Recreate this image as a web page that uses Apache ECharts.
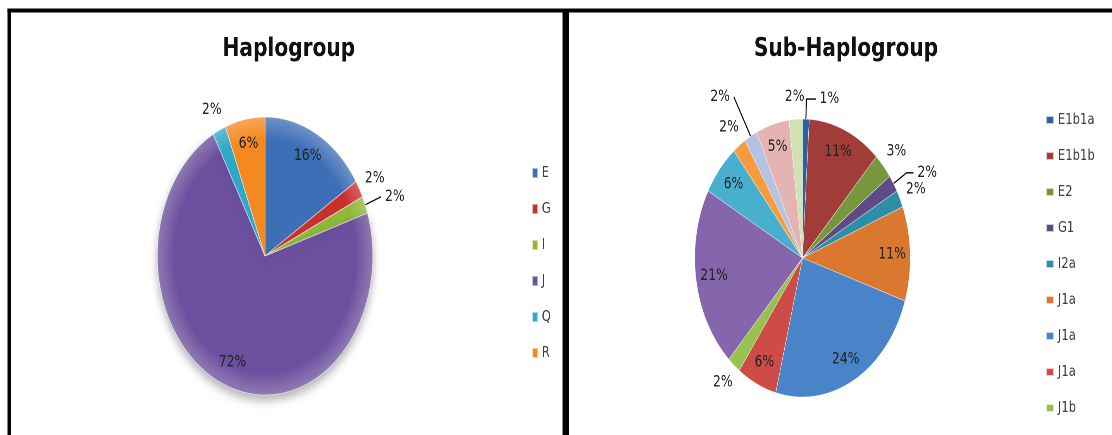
<!DOCTYPE html>
<html>
<head>
<meta charset="utf-8">
<script src="https://cdn.jsdelivr.net/npm/echarts@6/dist/echarts.min.js"></script>
<style>
  html, body { margin: 0; padding: 0; background: #fff; overflow: hidden; }
  #wrap { width: 1112px; height: 435px; overflow: hidden; position: relative; }
  /* the drawing is laid out wide and then narrowed, which gives the oval pies and the condensed lettering */
  #chart { width: 1435px; height: 435px; transform: scaleX(0.775); transform-origin: 0 0; }
</style>
</head>
<body>
<div id="wrap"><div id="chart"></div></div>
<script>
// Haplogroup shares (%)
const haploNames  = ['E', 'G', 'I', 'J', 'Q', 'R'];
const haploValues = [16, 2, 2, 72, 2, 6];

// Sub-haplogroup shares (%)
const subNames  = ['E1b1a', 'E1b1b', 'E2', 'G1', 'I2a', 'J1a', 'J1a', 'J1a', 'J1b', 'J1c', 'J1d', 'J2', 'Q1', 'R1a', 'R1b'];
const subValues = [1, 11, 3, 2, 2, 11, 24, 6, 2, 21, 6, 2, 2, 5, 2];
const subLegendCount = 9;

// ---- styling ----
const FONT = 'DejaVu Sans';
const R = 139;
const leftCenter = [342, 256];
const rightCenter = [1035.5, 258];

const haploColors = ['#3d6fb6', '#c9302c', '#8db83a', '#6c4f9e', '#2fa7c9', '#f5891f'];
const subColors = ['#2e5f9e', '#a13c39', '#77973b', '#5f4a86', '#2d8ea5', '#d9782e', '#4a84c8', '#cd4c47',
                   '#98c24f', '#8566ad', '#48b0cc', '#f89a3e', '#b4c3e3', '#e4b3b2', '#cfe2b4'];

// where each slice's percentage sits: 'in' = inside the slice, 'out' = just outside, 'lead' = with a leader line
const haploLabelPlace = ['in', 'out', 'lead', 'in', 'out', 'in'];
const subLabelPlace = ['lead', 'in', 'out', 'lead', 'out', 'in', 'in', 'in', 'out', 'in', 'in', 'out', 'lead', 'in', 'out'];
// leader line lengths [radial, horizontal]
const haploLeader = { 2: [22, 0] };
const subLeader = { 0: [20, 12], 3: [20, 9], 12: [45, 0] };

const labelText = { formatter: '{c}%', fontSize: 16, color: '#222', fontFamily: FONT };

function tint(hex, t) {
  const n = parseInt(hex.slice(1), 16);
  const f = c => Math.round(c + (255 - c) * t);
  return `rgb(${f((n >> 16) & 255)},${f((n >> 8) & 255)},${f(n & 255)})`;
}

function bevel(base, center) {
  return {
    type: 'radial', x: center[0], y: center[1], r: R, global: true,
    colorStops: [
      { offset: 0, color: base },
      { offset: 0.84, color: base },
      { offset: 1, color: tint(base, 0.25) }
    ]
  };
}

function mainPie(keys, values, colors, places, leaders, center, beveled) {
  return {
    type: 'pie', center, radius: [0, R], startAngle: 90, clockwise: true,
    avoidLabelOverlap: false, animation: false,
    label: { show: false }, labelLine: { show: false },
    emphasis: { disabled: true },
    itemStyle: beveled
      ? { borderColor: 'rgba(255,255,255,0.55)', borderWidth: 1 }
      : { borderColor: 'rgba(255,255,255,0.7)', borderWidth: 0.6 },
    data: keys.map((k, i) => {
      const item = {
        name: k, value: values[i],
        itemStyle: { color: beveled ? bevel(colors[i], center) : colors[i] }
      };
      if (beveled && values[i] > 50) {
        item.itemStyle.shadowBlur = 10;
        item.itemStyle.shadowColor = 'rgba(0,0,0,0.3)';
        item.itemStyle.shadowOffsetY = 5;
      }
      if (places[i] === 'lead') {
        const [len, len2] = leaders[i];
        item.label = Object.assign({ show: true, position: 'outside' }, labelText);
        item.labelLine = { show: true, length: len, length2: len2, lineStyle: { color: '#000', width: 1.3 } };
      }
      return item;
    })
  };
}

// transparent ring whose 'inside' labels land at half of its radius
function labelRing(keys, values, places, which, center, labelRadius) {
  return {
    type: 'pie', center, radius: [0, 2 * labelRadius], startAngle: 90, clockwise: true,
    silent: true, avoidLabelOverlap: false, animation: false, legendHoverLink: false,
    emphasis: { disabled: true },
    labelLine: { show: false },
    itemStyle: { color: 'rgba(0,0,0,0)', borderWidth: 0 },
    label: Object.assign({ position: 'inside' }, labelText),
    data: keys.map((k, i) => ({ name: k, value: values[i], label: { show: places[i] === which } }))
  };
}

const haploKeys = haploNames.slice();
const subKeys = subNames.map((n, i) => n + '#' + i);

const option = {
  animation: false,
  backgroundColor: '#fff',
  graphic: [
    { type: 'rect', shape: { x: 9.7, y: 8.5, width: 1440, height: 4 }, style: { fill: '#000' } },
    { type: 'rect', shape: { x: 9.7, y: 8.5, width: 4.6, height: 440 }, style: { fill: '#000' } },
    { type: 'rect', shape: { x: 725.8, y: 8.5, width: 8.4, height: 440 }, style: { fill: '#000' } },
    { type: 'text', x: 372.7, y: 49, style: { text: 'Haplogroup', fontFamily: FONT, fontWeight: 'bold', fontSize: 26, fill: '#111', align: 'center', verticalAlign: 'middle' } },
    { type: 'text', x: 1091.6, y: 49, style: { text: 'Sub-Haplogroup', fontFamily: FONT, fontWeight: 'bold', fontSize: 26, fill: '#111', align: 'center', verticalAlign: 'middle' } }
  ],
  legend: [
    {
      orient: 'vertical', left: 681, top: 160, icon: 'rect',
      itemWidth: 7, itemHeight: 10, itemGap: 20, selectedMode: false,
      textStyle: { fontFamily: FONT, fontSize: 15, lineHeight: 16, color: '#404040' },
      data: haploKeys.map((k, i) => ({ name: k, itemStyle: { color: haploColors[i] } }))
    },
    {
      orient: 'vertical', left: 1344, top: 107, icon: 'rect',
      itemWidth: 10, itemHeight: 8, itemGap: 20, selectedMode: false,
      textStyle: { fontFamily: FONT, fontSize: 15, lineHeight: 16, color: '#404040' },
      formatter: name => name.split('#')[0],
      data: subKeys.slice(0, subLegendCount).map((k, i) => ({ name: k, itemStyle: { color: subColors[i] } }))
    }
  ],
  series: [
    mainPie(haploKeys, haploValues, haploColors, haploLabelPlace, haploLeader, leftCenter, true),
    mainPie(subKeys, subValues, subColors, subLabelPlace, subLeader, rightCenter, false),
    labelRing(haploKeys, haploValues, haploLabelPlace, 'in', leftCenter, 0.8 * R),
    labelRing(haploKeys, haploValues, haploLabelPlace, 'out', leftCenter, 1.14 * R),
    labelRing(subKeys, subValues, subLabelPlace, 'in', rightCenter, 0.81 * R),
    labelRing(subKeys, subValues, subLabelPlace, 'out', rightCenter, 1.14 * R)
  ]
};

const chart = echarts.init(document.getElementById('chart'), null, { renderer: 'canvas', devicePixelRatio: 2 });
chart.setOption(option);
</script>
</body>
</html>
